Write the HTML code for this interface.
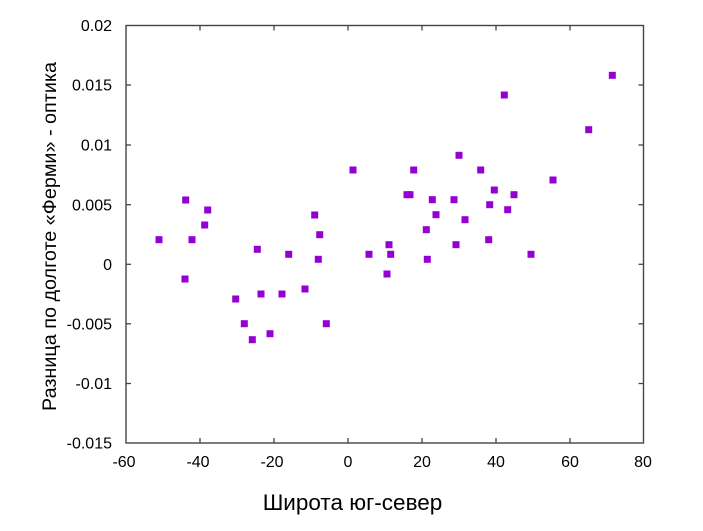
<!DOCTYPE html>
<html>
<head>
<meta charset="utf-8">
<style>
html,body{margin:0;padding:0;background:#fff;}
svg{display:block;}
text{font-family:"Liberation Sans","DejaVu Sans",sans-serif;fill:#000;}
</style>
</head>
<body>
<svg width="703" height="531" viewBox="0 0 703 531" xmlns="http://www.w3.org/2000/svg">
<rect width="703" height="531" fill="#fff"/>
<rect x="126" y="25.5" width="517.5" height="417.5" fill="none" stroke="#444" stroke-width="1.4"/>
<g stroke="#444" stroke-width="1.3">
<line x1="200" y1="443" x2="200" y2="438"/><line x1="200" y1="25.5" x2="200" y2="30.5"/>
<line x1="274" y1="443" x2="274" y2="438"/><line x1="274" y1="25.5" x2="274" y2="30.5"/>
<line x1="348" y1="443" x2="348" y2="438"/><line x1="348" y1="25.5" x2="348" y2="30.5"/>
<line x1="422" y1="443" x2="422" y2="438"/><line x1="422" y1="25.5" x2="422" y2="30.5"/>
<line x1="496" y1="443" x2="496" y2="438"/><line x1="496" y1="25.5" x2="496" y2="30.5"/>
<line x1="570" y1="443" x2="570" y2="438"/><line x1="570" y1="25.5" x2="570" y2="30.5"/>
<line x1="126" y1="85" x2="131" y2="85"/><line x1="643.5" y1="85" x2="638.5" y2="85"/>
<line x1="126" y1="145" x2="131" y2="145"/><line x1="643.5" y1="145" x2="638.5" y2="145"/>
<line x1="126" y1="204.7" x2="131" y2="204.7"/><line x1="643.5" y1="204.7" x2="638.5" y2="204.7"/>
<line x1="126" y1="264.3" x2="131" y2="264.3"/><line x1="643.5" y1="264.3" x2="638.5" y2="264.3"/>
<line x1="126" y1="323.8" x2="131" y2="323.8"/><line x1="643.5" y1="323.8" x2="638.5" y2="323.8"/>
<line x1="126" y1="383.5" x2="131" y2="383.5"/><line x1="643.5" y1="383.5" x2="638.5" y2="383.5"/>
</g>
<g font-size="16" text-anchor="end">
<text x="112" y="31">0.02</text>
<text x="112" y="90.7">0.015</text>
<text x="112" y="150.5">0.01</text>
<text x="112" y="210.3">0.005</text>
<text x="112" y="270">0</text>
<text x="112" y="329.5">-0.005</text>
<text x="112" y="389.2">-0.01</text>
<text x="112" y="448.7">-0.015</text>
</g>
<g font-size="16" text-anchor="middle">
<text x="124" y="467">-60</text>
<text x="198" y="467">-40</text>
<text x="272" y="467">-20</text>
<text x="348" y="467">0</text>
<text x="422" y="467">20</text>
<text x="496" y="467">40</text>
<text x="570" y="467">60</text>
<text x="643" y="467">80</text>
</g>
<text x="352.5" y="510" font-size="22.5" text-anchor="middle">Широта юг-север</text>
<text transform="translate(56,236.5) rotate(-90)" font-size="19.8" text-anchor="middle">Разница по долготе «Ферми» - оптика</text>
<g fill="#9400D3">
<rect x="155.5" y="236.2" width="7" height="7"/>
<rect x="182.2" y="196.5" width="7" height="7"/>
<rect x="188.5" y="236.2" width="7" height="7"/>
<rect x="201.2" y="221.5" width="7" height="7"/>
<rect x="204.2" y="206.5" width="7" height="7"/>
<rect x="253.8" y="245.8" width="7" height="7"/>
<rect x="285.2" y="250.8" width="7" height="7"/>
<rect x="311.2" y="211.5" width="7" height="7"/>
<rect x="316.2" y="231.2" width="7" height="7"/>
<rect x="314.8" y="255.8" width="7" height="7"/>
<rect x="349.5" y="166.5" width="7" height="7"/>
<rect x="181.5" y="275.5" width="7" height="7"/>
<rect x="232.2" y="295.5" width="7" height="7"/>
<rect x="257.5" y="290.5" width="7" height="7"/>
<rect x="278.5" y="290.5" width="7" height="7"/>
<rect x="301.5" y="285.5" width="7" height="7"/>
<rect x="240.8" y="320.2" width="7" height="7"/>
<rect x="266.5" y="330.2" width="7" height="7"/>
<rect x="248.8" y="336.2" width="7" height="7"/>
<rect x="322.8" y="320.2" width="7" height="7"/>
<rect x="608.8" y="71.8" width="7" height="7"/>
<rect x="500.8" y="91.5" width="7" height="7"/>
<rect x="585.2" y="126.2" width="7" height="7"/>
<rect x="455.5" y="151.8" width="7" height="7"/>
<rect x="410.2" y="166.5" width="7" height="7"/>
<rect x="477.2" y="166.5" width="7" height="7"/>
<rect x="549.5" y="176.5" width="7" height="7"/>
<rect x="403.5" y="191.2" width="7" height="7"/>
<rect x="406.5" y="191.2" width="7" height="7"/>
<rect x="490.8" y="186.5" width="7" height="7"/>
<rect x="510.5" y="191.2" width="7" height="7"/>
<rect x="428.8" y="196.2" width="7" height="7"/>
<rect x="450.5" y="196.2" width="7" height="7"/>
<rect x="486.2" y="201.2" width="7" height="7"/>
<rect x="504.2" y="206.2" width="7" height="7"/>
<rect x="432.5" y="211.2" width="7" height="7"/>
<rect x="461.5" y="216.2" width="7" height="7"/>
<rect x="422.8" y="226.2" width="7" height="7"/>
<rect x="485.2" y="236.2" width="7" height="7"/>
<rect x="385.5" y="241.2" width="7" height="7"/>
<rect x="452.5" y="241.2" width="7" height="7"/>
<rect x="365.5" y="250.8" width="7" height="7"/>
<rect x="387.2" y="250.8" width="7" height="7"/>
<rect x="527.5" y="250.8" width="7" height="7"/>
<rect x="423.8" y="255.8" width="7" height="7"/>
<rect x="383.5" y="270.5" width="7" height="7"/>
</g>
</svg>
</body>
</html>
